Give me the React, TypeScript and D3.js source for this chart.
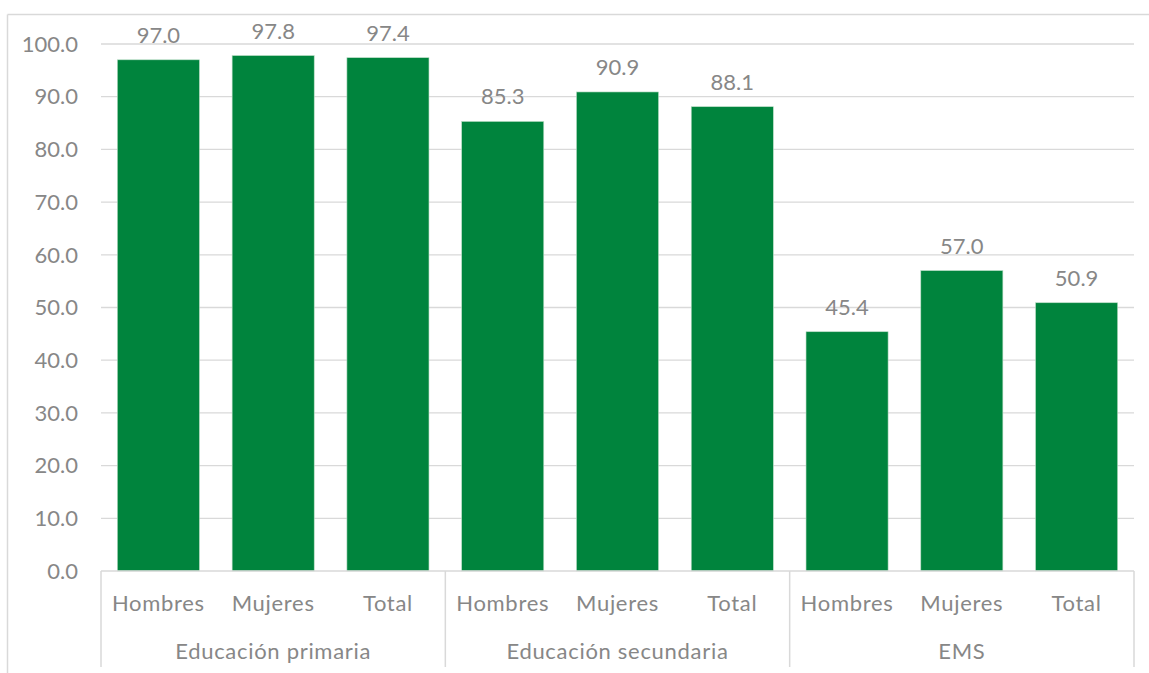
import React from "react";
import * as d3 from "d3";

const groups = ["Educación primaria", "Educación secundaria", "EMS"];
const categories = ["Hombres", "Mujeres", "Total"];
const values = [
  [97.0, 97.8, 97.4],
  [85.3, 90.9, 88.1],
  [45.4, 57.0, 50.9],
];
const yTicks = [0, 10, 20, 30, 40, 50, 60, 70, 80, 90, 100];

const W = 1149;
const H = 673;
const left = 101;
const right = 1134;
const top = 44;
const bottom = 571;
const FONT = "'Source Sans Pro', Lato, 'Noto Sans', sans-serif";
const FS = 22;
const LS = 0.7;
const GREY = "#878787";
const GRID = "#d9d9d9";
const GREEN = "#00843D";

export default function App() {
  const y = d3.scaleLinear().domain([0, 100]).range([bottom, top]);
  const gx = d3.scaleBand<string>().domain(groups).range([left, right]).padding(0);
  const cx = d3
    .scaleBand<string>()
    .domain(categories)
    .range([0, gx.bandwidth()])
    .paddingInner(0.285)
    .paddingOuter(0.1425);
  const fmt = d3.format(".1f");
  const txt = { fontFamily: FONT, fontSize: FS, fill: GREY, letterSpacing: LS } as const;
  const num = { fontFamily: FONT, fontSize: FS, fill: GREY } as const;

  return (
    <svg width={W} height={H} style={{ position: "absolute", left: 0, top: 0, display: "block" }}>
      <rect x={0} y={0} width={W} height={H} fill="#fff" />
      {/* outer frame */}
      <line x1={7.5} y1={14.5} x2={W} y2={14.5} stroke={GRID} strokeWidth={1.5} />
      <line x1={7.5} y1={14.5} x2={7.5} y2={H} stroke={GRID} strokeWidth={1.5} />
      {/* gridlines */}
      {yTicks.map((t) => (
        <g key={t}>
          {t > 0 && (
            <line x1={left} x2={right} y1={y(t)} y2={y(t)} stroke={GRID} strokeWidth={1.3} />
          )}
          <text x={78} y={y(t)} dy="0.35em" textAnchor="end" {...num}>
            {fmt(t)}
          </text>
        </g>
      ))}
      {/* bars */}
      {groups.map((g, gi) =>
        categories.map((c, ci) => {
          const v = values[gi][ci];
          const x0 = (gx(g) as number) + (cx(c) as number);
          return (
            <g key={g + c}>
              <rect
                x={x0}
                y={y(v)}
                width={cx.bandwidth()}
                height={bottom - y(v)}
                fill={GREEN}
                stroke="#b8dcc4"
                strokeWidth={0.6}
              />
              <text x={x0 + cx.bandwidth() / 2} y={y(v) - 17} textAnchor="middle" {...num}>
                {fmt(v)}
              </text>
            </g>
          );
        })
      )}
      {/* axis */}
      <line x1={left} x2={right} y1={bottom} y2={bottom} stroke={GRID} strokeWidth={1.5} />
      {[...groups.map((g) => gx(g) as number), right].map((x, i) => (
        <line key={i} x1={x} x2={x} y1={bottom} y2={667} stroke={GRID} strokeWidth={1.5} />
      ))}
      {groups.map((g) => (
        <g key={g}>
          {categories.map((c) => (
            <text
              key={c}
              x={(gx(g) as number) + (cx(c) as number) + cx.bandwidth() / 2}
              y={611}
              textAnchor="middle"
              {...txt}
            >
              {c}
            </text>
          ))}
          <text x={(gx(g) as number) + gx.bandwidth() / 2} y={659} textAnchor="middle" {...txt}>
            {g}
          </text>
        </g>
      ))}
    </svg>
  );
}
